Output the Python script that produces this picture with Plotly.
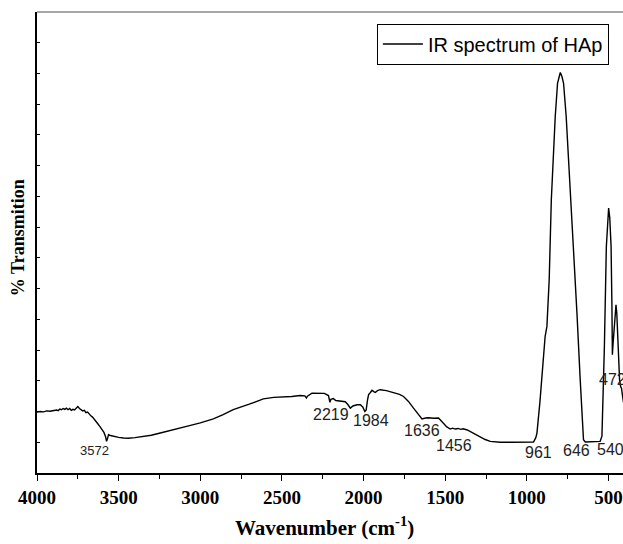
import plotly.graph_objects as go

# IR spectrum of hydroxyapatite (HAp): wavenumber (cm^-1) vs relative transmission
wavenumber = [
    4000, 3980, 3960, 3940, 3920, 3900, 3880, 3870, 3860, 3850, 3840, 3830, 3820,
    3810, 3800, 3790, 3780, 3770, 3760, 3750, 3740, 3730, 3720, 3710, 3700, 3690,
    3680, 3670, 3660, 3650, 3640, 3630, 3620, 3610, 3600, 3590, 3580, 3574, 3568,
    3562, 3550, 3530, 3500, 3470, 3440, 3400, 3367, 3300, 3245, 3180, 3122, 3060,
    3000, 2920, 2860, 2798, 2700, 2614, 2550, 2492, 2440, 2388, 2360, 2350, 2344,
    2316, 2280, 2240, 2215, 2206, 2200, 2185, 2170, 2153, 2130, 2112, 2095, 2081,
    2065, 2040, 2020, 2005, 1992, 1984, 1975, 1969, 1958, 1948, 1935, 1928, 1915,
    1898, 1860, 1816, 1780, 1755, 1725, 1694, 1665, 1642, 1620, 1602, 1570, 1541,
    1525, 1510, 1490, 1469, 1455, 1438, 1420, 1405, 1390, 1365, 1336, 1310, 1285,
    1255, 1224, 1190, 1163, 1100, 1000, 959, 945, 938, 920, 908, 888, 877, 863,
    850, 840, 826, 812, 800, 795, 785, 775, 759, 744, 734, 693, 673, 658, 653,
    642, 600, 551, 540, 533, 525, 513, 505, 499, 492, 484, 479, 476, 472, 468,
    460, 454, 449, 444, 438, 432, 425, 420, 415, 408,
]
transmission = [
    1.98, 2.00, 1.99, 2.02, 2.01, 2.04, 2.05, 2.03, 2.08, 2.06, 2.10, 2.07, 2.11,
    2.06, 2.10, 2.04, 2.07, 2.05, 2.12, 2.16, 2.10, 2.06, 2.02, 2.04, 1.96, 1.98,
    1.90, 1.86, 1.82, 1.74, 1.70, 1.62, 1.55, 1.48, 1.40, 1.32, 1.18, 1.03, 1.12,
    1.25, 1.22, 1.19, 1.16, 1.14, 1.13, 1.15, 1.17, 1.23, 1.30, 1.38, 1.46, 1.55,
    1.63, 1.76, 1.90, 2.06, 2.24, 2.41, 2.46, 2.47, 2.49, 2.52, 2.51, 2.44, 2.50,
    2.60, 2.60, 2.59, 2.52, 2.30, 2.40, 2.42, 2.36, 2.35, 2.33, 2.32, 2.22, 2.11,
    2.18, 2.22, 2.22, 2.15, 2.00, 2.05, 2.40, 2.55, 2.62, 2.69, 2.64, 2.62, 2.68,
    2.71, 2.68, 2.62, 2.56, 2.49, 2.33, 2.11, 1.92, 1.76, 1.79, 1.80, 1.78, 1.79,
    1.70, 1.60, 1.50, 1.43, 1.46, 1.43, 1.45, 1.42, 1.44, 1.40, 1.32, 1.24, 1.17,
    1.09, 1.03, 1.01, 1.00, 1.00, 1.00, 1.01, 1.15, 1.30, 2.30, 3.03, 4.44, 4.77, 6.29,
    8.89, 10.19, 11.60, 12.68, 13.00, 13.03, 12.90, 12.68, 11.60, 10.19, 9.20, 5.20, 3.03, 1.50, 1.08,
    1.01, 1.01, 1.03, 1.20, 2.50, 4.12, 7.37, 8.40, 8.62, 8.30, 7.37, 5.50, 3.85, 4.20, 4.55,
    5.20, 5.47, 5.20, 4.66, 3.60, 3.03, 2.80, 2.76, 2.55, 2.30,
]

# Band labels: text, position (wavenumber, transmission), font size
band_labels = ["3572", "2219", "1984", "1636", "1456", "961", "646", "540", "472"]
band_x = [3649, 2200, 1957, 1640, 1444, 928, 695, 489, 477]
band_y = [0.735, 1.90, 1.70, 1.38, 0.90, 0.67, 0.725, 0.76, 3.03]
band_size = [13, 16, 16, 16, 16, 16, 16, 16, 16]

x_ticks = [4000, 3500, 3000, 2500, 2000, 1500, 1000, 500]

fig = go.Figure()
fig.add_trace(go.Scatter(
    x=wavenumber, y=transmission, mode="lines",
    line=dict(color="black", width=1.4),
    name="IR spectrum of HAp",
))

for txt, bx, by, fs in zip(band_labels, band_x, band_y, band_size):
    fig.add_annotation(
        x=bx, y=by, text=txt, showarrow=False,
        xanchor="center", yanchor="middle",
        font=dict(family="Liberation Sans, Arial", size=fs, color="#222"),
    )

serif_bold = dict(family="Liberation Serif, Times New Roman", size=19,
                  color="black", weight="bold")

fig.add_annotation(
    xref="paper", yref="paper", x=0.491, y=-0.117,
    text="Wavenumber (cm<sup>-1</sup>)", showarrow=False,
    xanchor="center", yanchor="middle",
    font=dict(serif_bold, size=21),
)
fig.add_annotation(
    xref="paper", yref="paper", x=-0.032, y=0.51,
    text="% Transmition", showarrow=False, textangle=-90,
    xanchor="center", yanchor="middle",
    font=dict(serif_bold, size=18),
)

# grey frame line along the top of the plot area
fig.add_shape(type="line", xref="paper", yref="paper", x0=0, x1=1, y0=1, y1=1,
              line=dict(color="#888", width=1.5))

fig.update_xaxes(
    range=[4000, 411], tickvals=x_ticks, ticktext=[str(v) for v in x_ticks],
    ticks="outside", ticklen=6, tickwidth=1.2, tickcolor="black",
    minor=dict(tickvals=[3750, 3250, 2750, 2250, 1750, 1250, 750],
               ticks="outside", ticklen=4, tickwidth=1.2, tickcolor="black"),
    showline=True, linecolor="black", linewidth=1.5,
    showgrid=False, zeroline=False,
    tickfont=serif_bold,
)
fig.update_yaxes(
    range=[0, 15], tickvals=list(range(0, 16)),
    ticks="inside", ticklen=3, tickwidth=1, tickcolor="black",
    showticklabels=False,
    showline=True, linecolor="black", linewidth=1.5,
    showgrid=False, zeroline=False,
)

fig.update_layout(
    width=623, height=544,
    margin=dict(l=37, r=0, t=12, b=71),
    paper_bgcolor="white", plot_bgcolor="white",
    showlegend=True,
    legend=dict(
        x=0.58, y=0.975, xanchor="left", yanchor="top",
        bordercolor="black", borderwidth=1, bgcolor="white",
        font=dict(family="Liberation Sans, Arial", size=20, color="black"),
        itemwidth=40, tracegroupgap=0,
    ),
)

fig.write_html("out.html")
